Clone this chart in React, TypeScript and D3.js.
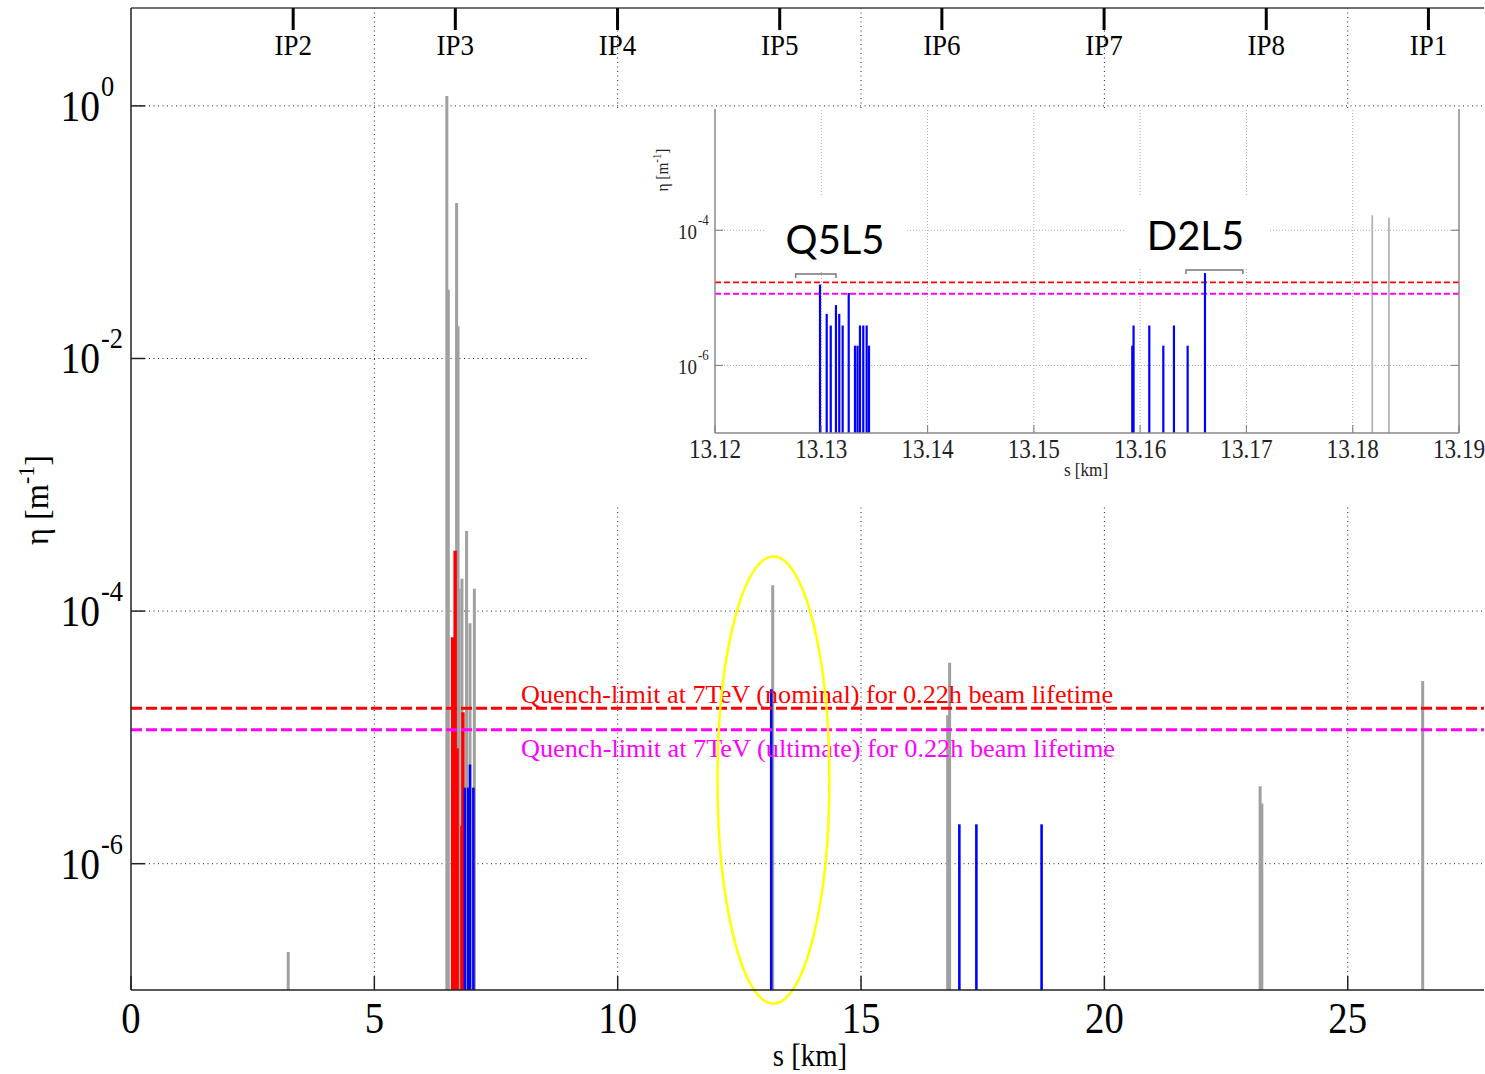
import React from "react";
import * as d3 from "d3";

// ---------- data ----------
const ipNames = ["IP2", "IP3", "IP4", "IP5", "IP6", "IP7", "IP8", "IP1"];
const ipPositions = [3.332, 6.664, 9.997, 13.329, 16.661, 19.994, 23.326, 26.658];

const xTicks = [0, 5, 10, 15, 20, 25];
const yTickExps = [0, -2, -4, -6];

// main plot: gray (other losses)
const grayS = [3.23, 6.49, 6.52, 6.69, 6.72, 6.74, 6.80, 6.895, 6.965, 7.055, 13.185, 16.78, 16.82, 23.2, 23.235, 26.54];
const grayV = [2e-7, 1.2, 0.035, 0.17, 0.018, 1.5e-4, 1.8e-4, 4.3e-4, 8e-5, 1.5e-4, 1.6e-4, 1.5e-5, 3.9e-5, 4.1e-6, 3e-6, 2.8e-5];
// red
const redS = [6.608, 6.66, 6.70, 6.80, 6.82];
const redV = [6.2e-5, 3.0e-4, 8.2e-6, 2.0e-6, 1.58e-5];
// blue
const blueS = [6.86, 6.93, 6.965, 7.035, 13.155, 17.02, 17.37, 18.71];
const blueV = [4e-6, 4e-6, 6.1e-6, 4e-6, 2.4e-5, 2.05e-6, 2.05e-6, 2.05e-6];

const quenchNominal = 1.7e-5;
const quenchUltimate = 1.15e-5;
const quenchNominalText = "Quench-limit at 7TeV (nominal) for 0.22h beam lifetime";
const quenchUltimateText = "Quench-limit at 7TeV (ultimate) for 0.22h beam lifetime";

// inset
const insetXTicks = [13.12, 13.13, 13.14, 13.15, 13.16, 13.17, 13.18, 13.19];
const insetYTickExps = [-4, -6];
const insetBlueS = [13.12988, 13.13051, 13.13089, 13.13138, 13.13169, 13.13201, 13.13258, 13.13317, 13.13341, 13.13364, 13.13395, 13.13427, 13.13449,
  13.15926, 13.15938, 13.16086, 13.16218, 13.16318, 13.16447, 13.1661];
const insetBlueV = [1.57e-5, 5.8e-6, 3.9e-6, 7.8e-6, 5.8e-6, 3.9e-6, 1.18e-5, 1.96e-6, 1.96e-6, 3.9e-6, 3.9e-6, 3.9e-6, 1.96e-6,
  1.96e-6, 3.9e-6, 3.9e-6, 1.96e-6, 3.9e-6, 1.96e-6, 2.33e-5];
const insetGrayS = [13.18184, 13.18341];
const insetGrayV = [1.67e-4, 1.54e-4];

const labelNames = ["Q5L5", "D2L5"];
const labelS = [13.1313, 13.1652];
const bracketFrom = [13.12759, 13.16431];
const bracketTo = [13.13138, 13.16967];
const bracketV = [2.25e-5, 2.58e-5];

// annotation ellipse (data space)
const ellipseS = [12.05, 14.35];
const ellipseV = [7.8e-8, 2.7e-4];

const SERIF = "'Liberation Serif', 'Times New Roman', serif";

const T = ({ x, y, sx = 1, size, anchor = "start", fill = "#000", rotate = 0, children, family = SERIF, weight = "normal" }: any) => (
  <g transform={`translate(${x},${y}) rotate(${rotate}) scale(${sx},1)`}>
    <text fontSize={size} textAnchor={anchor} fill={fill} fontFamily={family} fontWeight={weight}>{children}</text>
  </g>
);

export default function App() {
  const W = 1485, H = 1074;
  const x = d3.scaleLinear().domain([0, 27.8]).range([131, 1484]);
  const y = d3.scaleLog().domain([1e-7, Math.pow(10, 0.775)]).range([990, 8]);
  const ix = d3.scaleLinear().domain([13.12, 13.19]).range([715, 1459]);
  const iy = d3.scaleLog().domain([1e-7, Math.pow(10, -2.22)]).range([433, 110]);

  const gridStyle = { stroke: "#222", strokeWidth: 1, strokeDasharray: "1,3.5" };
  const igrid = { stroke: "#aaa", strokeWidth: 1, strokeDasharray: "1,2" };

  const bars = (S: number[], V: number[], color: string, w: number, xs: any, ys: any, base: number, key: string) =>
    S.map((s, i) => (
      <line key={key + i} x1={xs(s)} x2={xs(s)} y1={base} y2={ys(V[i])} stroke={color} strokeWidth={w} />
    ));

  return (
    <svg width={W} height={H} style={{ position: "absolute", left: 0, top: 0, background: "#fff" }}>
      <rect x={0} y={0} width={W} height={H} fill="#fff" />
      {/* main grid */}
      {xTicks.filter((t) => t > 0).map((t) => (
        <line key={"gx" + t} x1={x(t)} x2={x(t)} y1={8} y2={990} style={gridStyle} />
      ))}
      {yTickExps.map((e) => (
        <line key={"gy" + e} x1={131} x2={1484} y1={y(Math.pow(10, e))} y2={y(Math.pow(10, e))} style={gridStyle} />
      ))}

      {/* main bars */}
      {bars(grayS, grayV, "#a0a0a0", 3, x, y, 990, "g")}
      {bars(redS, redV, "#ff0000", 3.5, x, y, 990, "r")}
      {bars(blueS, blueV, "#0000ff", 2.6, x, y, 990, "b")}

      {/* quench lines */}
      <line x1={131} x2={1484} y1={y(quenchNominal)} y2={y(quenchNominal)} stroke="#ff0000" strokeWidth={3} strokeDasharray="11,4" />
      <line x1={131} x2={1484} y1={y(quenchUltimate)} y2={y(quenchUltimate)} stroke="#ff00ff" strokeWidth={3} strokeDasharray="11,4" />
      <text x={521} y={703} fontSize={25} fill="#ff0000" fontFamily={SERIF} textLength={592} lengthAdjust="spacingAndGlyphs">{quenchNominalText}</text>
      <text x={521} y={757} fontSize={25} fill="#ff00ff" fontFamily={SERIF} textLength={594} lengthAdjust="spacingAndGlyphs">{quenchUltimateText}</text>

      {/* ellipse */}
      <ellipse cx={(x(ellipseS[0]) + x(ellipseS[1])) / 2} cy={(y(ellipseV[0]) + y(ellipseV[1])) / 2}
        rx={(x(ellipseS[1]) - x(ellipseS[0])) / 2} ry={(y(ellipseV[0]) - y(ellipseV[1])) / 2}
        fill="none" stroke="#ffff00" strokeWidth={2.5} />

      {/* main axes */}
      <line x1={131} x2={1484} y1={8} y2={8} stroke="#444" strokeWidth={1.5} />
      <line x1={131} x2={131} y1={8} y2={990} stroke="#222" strokeWidth={1.5} />
      <line x1={131} x2={1484} y1={990} y2={990} stroke="#222" strokeWidth={1.5} />
      {xTicks.map((t) => (
        <line key={"tx" + t} x1={x(t)} x2={x(t)} y1={990} y2={976} stroke="#222" strokeWidth={1.5} />
      ))}
      {yTickExps.map((e) => (
        <line key={"ty" + e} x1={131} x2={145} y1={y(Math.pow(10, e))} y2={y(Math.pow(10, e))} stroke="#222" strokeWidth={1.5} />
      ))}
      {xTicks.map((t) => (
        <T key={"lx" + t} x={x(t)} y={1033} size={44} sx={0.88} anchor="middle">{String(t)}</T>
      ))}
      {yTickExps.map((e) => (
        <g key={"ly" + e}>
          <T x={100} y={y(Math.pow(10, e)) + 15} size={45} sx={0.88} anchor="end">10</T>
          <T x={101} y={y(Math.pow(10, e)) - 10} size={30} sx={0.88}>{String(e)}</T>
        </g>
      ))}
      <T x={810} y={1066} size={32} sx={0.9} anchor="middle">s [km]</T>
      <g transform="translate(48,500) rotate(-90) scale(0.95,1)">
        <text fontSize={34} textAnchor="middle" fontFamily={SERIF}>
          <tspan>η [m</tspan>
          <tspan fontSize={23} dy={-14}>-1</tspan>
          <tspan dy={14}>]</tspan>
        </text>
      </g>

      {/* IP markers */}
      {ipPositions.map((p, i) => (
        <g key={"ip" + i}>
          <line x1={x(p)} x2={x(p)} y1={8} y2={30} stroke="#000" strokeWidth={3} />
          <T x={x(p)} y={55} size={30} sx={0.9} anchor="middle">{ipNames[i]}</T>
        </g>
      ))}

      {/* ---------- inset ---------- */}
      <rect x={590} y={108} width={895} height={396} fill="#fff" />
      {insetXTicks.slice(1, -1).map((t) => (
        <line key={"igx" + t} x1={ix(t)} x2={ix(t)} y1={110} y2={433} style={igrid} />
      ))}
      {insetYTickExps.map((e) => (
        <line key={"igy" + e} x1={715} x2={1459} y1={iy(Math.pow(10, e))} y2={iy(Math.pow(10, e))} style={igrid} />
      ))}
      {/* label white boxes */}
      <rect x={765} y={197} width={140} height={75} fill="#fff" />
      <rect x={1125} y={197} width={143} height={70} fill="#fff" />

      {bars(insetGrayS, insetGrayV, "#b4b4b4", 1.8, ix, iy, 433, "ig")}
      <line x1={715} x2={1459} y1={iy(quenchNominal)} y2={iy(quenchNominal)} stroke="#ff0000" strokeWidth={1.8} strokeDasharray="6,3" />
      <line x1={715} x2={1459} y1={iy(quenchUltimate)} y2={iy(quenchUltimate)} stroke="#ff00ff" strokeWidth={1.8} strokeDasharray="6,3" />
      {bars(insetBlueS, insetBlueV, "#0000ff", 2.2, ix, iy, 433, "ib")}

      {/* brackets + labels */}
      {labelNames.map((n, i) => {
        const x1 = ix(bracketFrom[i]), x2 = ix(bracketTo[i]), yy = iy(bracketV[i]);
        return (
          <g key={"lab" + i}>
            <path d={`M${x1},${yy + 4}V${yy}H${x2}V${yy + 4}`} fill="none" stroke="#777" strokeWidth={1.5} />
            <text x={ix(labelS[i])} y={yy - 20} fontSize={40} textAnchor="middle" fontFamily="Lato, 'Open Sans', sans-serif" fill="#000">{n}</text>
          </g>
        );
      })}

      {/* inset axes */}
      <line x1={715} x2={715} y1={109} y2={433} stroke="#888" strokeWidth={1.5} />
      <line x1={715} x2={1459} y1={433} y2={433} stroke="#888" strokeWidth={1.5} />
      <line x1={1459} x2={1459} y1={109} y2={433} stroke="#888" strokeWidth={1.5} />
      {insetXTicks.map((t) => (
        <line key={"itx" + t} x1={ix(t)} x2={ix(t)} y1={433} y2={425} stroke="#888" strokeWidth={1.2} />
      ))}
      {insetYTickExps.map((e) => (
        <g key={"ity" + e}>
          <line x1={715} x2={723} y1={iy(Math.pow(10, e))} y2={iy(Math.pow(10, e))} stroke="#888" strokeWidth={1.2} />
          <line x1={1451} x2={1459} y1={iy(Math.pow(10, e))} y2={iy(Math.pow(10, e))} stroke="#888" strokeWidth={1.2} />
          <T x={697} y={iy(Math.pow(10, e)) + 9} size={22} sx={0.86} anchor="end" fill="#222">10</T>
          <T x={698} y={iy(Math.pow(10, e)) - 5} size={15} sx={0.86} fill="#222">{String(e)}</T>
        </g>
      ))}
      {insetXTicks.map((t) => (
        <T key={"ilx" + t} x={ix(t)} y={458} size={27} sx={0.86} anchor="middle" fill="#222">{t.toFixed(2)}</T>
      ))}
      <T x={1086} y={476} size={19} sx={0.9} anchor="middle" fill="#222">s [km]</T>
      <g transform="translate(668,170) rotate(-90) scale(0.9,1)">
        <text fontSize={17} textAnchor="middle" fontFamily={SERIF} fill="#222">
          <tspan>η [m</tspan>
          <tspan fontSize={12} dy={-7}>-1</tspan>
          <tspan dy={7}>]</tspan>
        </text>
      </g>
    </svg>
  );
}
